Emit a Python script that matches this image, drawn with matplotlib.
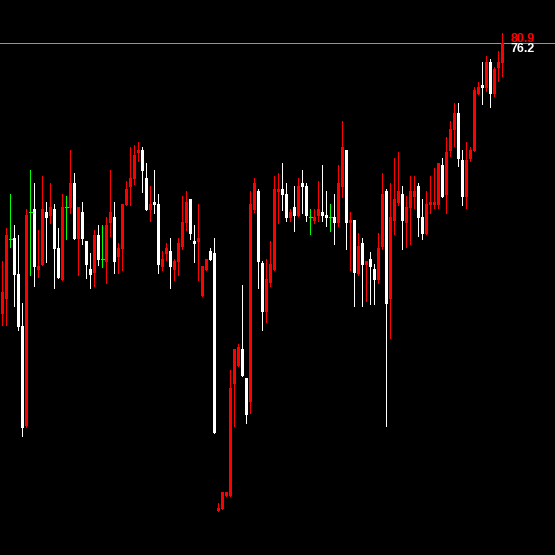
import matplotlib
matplotlib.use("Agg")
import matplotlib.pyplot as plt
import numpy as np

# OHLC values (price units)
opens = [49.13, 50.6, 56.63, 56.7, 53.1, 47.9, 37.93, 59.3, 59.6, 53.53,
         54.03, 59.3, 58.93, 59.6, 55.7, 52.53, 59.77, 59.7, 62.2, 56.63,
         59.3, 56.4, 53.6, 53.23, 57.0, 54.6, 54.33, 58.2, 58.8, 54.83,
         55.63, 60.0, 61.8, 62.6, 65.2, 65.5, 62.7, 59.5, 60.3, 60.1,
         53.83, 55.13, 55.4, 53.5, 54.33, 55.83, 58.2, 60.6, 56.4, 56.33,
         50.93, 53.53, 55.4, 55.2, 29.4, 29.6, 30.9, 30.9, 42.1, 43.9,
         45.6, 42.7, 40.33, 59.53, 61.4, 54.17, 49.33, 52.2, 53.5, 61.3,
         61.6, 61.1, 58.7, 59.8, 58.9, 62.2, 61.9, 58.8, 58.4, 58.9,
         59.3, 59.0, 58.8, 58.8, 58.2, 61.8, 65.5, 58.2, 58.5, 53.1,
         56.2, 54.0, 54.6, 53.6, 52.5, 55.8, 61.4, 50.6, 58.4, 60.2,
         61.1, 58.2, 59.7, 60.8, 61.9, 58.8, 57.1, 60.0, 60.0, 60.0,
         64.0, 61.0, 65.4, 67.5, 69.2, 64.5, 60.8, 64.6, 65.4, 71.1,
         72.0, 71.7, 74.3, 71.1, 73.7, 74.2]
highs = [54.4, 57.7, 61.1, 58.0, 57.0, 50.2, 59.6, 63.5, 62.2, 57.5,
         62.9, 60.3, 62.2, 60.1, 57.7, 61.1, 60.9, 65.5, 63.2, 59.8,
         60.3, 56.4, 55.2, 57.5, 58.0, 58.0, 58.77, 63.5, 60.3, 56.2,
         60.1, 62.4, 65.8, 66.0, 66.3, 65.8, 64.2, 61.9, 63.5, 61.1,
         55.4, 56.2, 56.7, 54.6, 56.7, 60.9, 61.4, 60.6, 58.0, 60.1,
         53.9, 54.6, 55.7, 56.7, 30.2, 31.3, 31.3, 43.5, 45.6, 46.1,
         52.0, 42.7, 61.4, 62.7, 61.6, 54.4, 54.6, 56.4, 62.9, 63.2,
         64.2, 62.2, 59.6, 61.9, 62.7, 63.5, 62.2, 59.6, 59.6, 62.4,
         64.0, 61.4, 60.1, 61.1, 64.0, 68.4, 65.5, 59.3, 58.5, 57.2,
         56.7, 54.4, 55.3, 54.1, 57.2, 63.2, 61.6, 62.2, 64.7, 65.3,
         61.9, 60.9, 62.9, 62.9, 62.2, 60.6, 61.4, 62.9, 63.7, 64.2,
         64.7, 66.8, 68.4, 70.2, 70.2, 65.5, 66.3, 65.8, 71.8, 72.3,
         74.3, 74.9, 74.6, 73.8, 75.4, 77.2]
lows = [48.0, 48.0, 55.83, 49.93, 47.5, 36.93, 37.77, 53.0, 51.93, 52.77,
        54.0, 54.3, 58.23, 51.73, 52.73, 52.53, 56.63, 59.23, 56.63, 53.03,
        56.13, 52.73, 51.73, 51.93, 54.03, 53.83, 52.23, 56.9, 53.23, 53.23,
        53.53, 60.0, 60.0, 62.1, 64.4, 61.3, 59.5, 58.4, 59.2, 53.23,
        53.53, 54.53, 51.73, 52.53, 53.03, 55.63, 57.5, 56.63, 54.33, 52.53,
        50.93, 53.53, 54.5, 37.23, 29.4, 29.6, 30.9, 30.9, 37.93, 43.9,
        42.9, 38.23, 39.23, 59.3, 51.7, 47.5, 48.33, 51.9, 53.5, 58.2,
        59.5, 58.4, 58.4, 57.4, 58.9, 59.2, 58.4, 57.1, 58.2, 58.4,
        58.4, 57.9, 57.4, 56.1, 57.9, 60.8, 55.6, 53.5, 49.9, 53.0,
        49.9, 50.4, 50.1, 50.1, 52.2, 55.6, 37.9, 46.7, 57.1, 60.0,
        55.6, 55.8, 56.1, 59.7, 56.9, 56.6, 57.1, 59.2, 59.7, 59.7,
        60.8, 59.2, 64.9, 65.9, 63.9, 60.0, 59.7, 64.4, 65.4, 71.1,
        70.1, 71.4, 69.8, 70.9, 72.4, 72.9]
closes = [51.3, 57.0, 56.63, 53.03, 47.83, 37.73, 59.0, 59.3, 53.83, 53.93,
          59.6, 58.73, 59.8, 55.63, 52.73, 59.8, 59.77, 62.2, 56.63, 59.8,
          56.63, 54.03, 53.03, 57.0, 54.53, 54.6, 58.0, 59.3, 54.33, 55.7,
          60.1, 61.6, 62.7, 65.0, 65.5, 63.4, 59.5, 60.1, 60.0, 54.03,
          54.6, 55.7, 53.83, 54.4, 56.2, 58.3, 60.3, 57.1, 56.13, 56.7,
          53.9, 54.6, 54.5, 37.23, 29.7, 31.3, 31.3, 41.7, 45.6, 45.8,
          42.9, 39.03, 60.1, 62.2, 54.3, 49.33, 52.6, 54.1, 61.6, 61.6,
          61.0, 58.7, 59.3, 58.9, 61.9, 61.8, 58.9, 58.8, 58.8, 59.6,
          58.9, 58.7, 58.8, 58.2, 62.2, 65.8, 58.2, 58.5, 53.2, 55.9,
          54.0, 54.4, 53.8, 52.5, 55.7, 61.1, 50.1, 58.8, 60.6, 61.4,
          58.4, 59.8, 61.4, 61.4, 58.7, 57.1, 60.1, 60.3, 60.3, 64.2,
          60.8, 65.3, 67.6, 69.2, 64.6, 60.8, 64.5, 65.5, 71.5, 71.8,
          71.7, 74.3, 71.1, 73.6, 74.3, 76.2]
label_top = "80.9"
label_last = "76.2"

UP = "#ff0000"
DOWN = "#ffffff"
DOJI = "#00ff00"
BG = "#000000"

W, H = 555, 555
fig = plt.figure(figsize=(W / 100, H / 100), dpi=100, facecolor=BG)
ax = fig.add_axes([0, 0, 1, 1], facecolor=BG)
ax.set_axis_off()

n = len(opens)
x = np.arange(n)
o = np.array(opens); h = np.array(highs); l = np.array(lows); c = np.array(closes)

cols = []
for oi, ci in zip(o, c):
    if abs(ci - oi) < 1e-9:
        cols.append(DOJI)
    elif ci > oi:
        cols.append(UP)
    else:
        cols.append(DOWN)

ax.vlines(x, l, h, colors=cols, linewidth=0.72, antialiased=False)
bot = np.minimum(o, c)
ht = np.abs(c - o)
mask = ht > 1e-9
ax.bar(x[mask], ht[mask], bottom=bot[mask], width=0.75,
       color=[cc for cc, m in zip(cols, mask) if m], linewidth=0, antialiased=False)
dj = ~mask
ax.hlines(o[dj], x[dj] - 0.375, x[dj] + 0.375, colors=DOJI, linewidth=0.72, antialiased=False)

# last price line
ax.axhline(c[-1], color="#8a96a2", linewidth=0.72, antialiased=False, zorder=0)

ax.set_xlim(-2.3 / 4, (W - 2.3) / 4)
ax.set_ylim(80.5 - H / 10, 80.5)

fig.text(510.5 / W, 1 - 41.7 / H, label_top, color=UP, fontsize=9.0,
         family="Liberation Sans", fontweight="bold", va="baseline", ha="left")
fig.text(510.5 / W, 1 - 51.9 / H, label_last, color=DOWN, fontsize=9.0,
         family="Liberation Sans", fontweight="bold", va="baseline", ha="left")

fig.savefig("out.png", dpi=100, facecolor=BG)
